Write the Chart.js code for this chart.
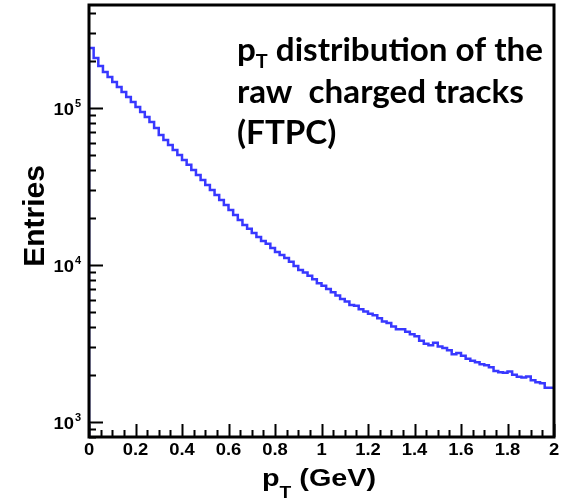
<!DOCTYPE html>
<html>
<head>
<meta charset="utf-8">
<script src="https://cdn.jsdelivr.net/npm/chart.js@4"></script>
<style>
  html, body { margin: 0; padding: 0; background: #fff; }
  canvas { display: block; }
</style>
</head>
<body>
<canvas id="ptChart" width="570" height="502"></canvas>
<script>
// ── Data ──
const binWidth = 0.02;           // GeV, 100 bins from 0 to 2
const entries = [
  100000, 241000, 208000, 185000, 169600, 157600, 146400, 136100, 126500, 117500,
  109200, 101500, 94300, 87600, 81400, 74600, 67300, 62600, 58100, 54000,
  50200, 46600, 43400, 40300, 37400, 34800, 32300, 30000, 27900, 25900,
  24100, 22400, 20800, 19350, 17980, 16960, 15990, 15080, 14220, 13610,
  12830, 12100, 11580, 11080, 10450, 9850, 9290, 8930, 8510, 8110,
  7650, 7350, 7030, 6680, 6380, 6070, 5840, 5560, 5480, 5220,
  5040, 4875, 4780, 4575, 4355, 4255, 4045, 3895, 3890, 3745,
  3610, 3505, 3280, 3140, 3070, 3185, 3015, 2950, 2860, 2690,
  2740, 2635, 2520, 2445, 2395, 2330, 2290, 2225, 2105, 2070,
  2050, 2090, 1992, 1934, 1913, 1943, 1838, 1785, 1759, 1650
];

const xTickValues = [0, 0.2, 0.4, 0.6, 0.8, 1, 1.2, 1.4, 1.6, 1.8, 2];
const xTickLabels = ['0', '0.2', '0.4', '0.6', '0.8', '1', '1.2', '1.4', '1.6', '1.8', '2'];
const xMinorStep = 0.05;

const yTickValues = [1e3, 1e4, 1e5];
const yTickExponents = ['3', '4', '5'];

const yMin = 800, yMax = 453000;

const annotationLines = [
  [['p', 'main'], ['T', 'sub'], [' distribution of the', 'main']],
  [['raw  charged tracks', 'main']],
  [['(FTPC)', 'main']],
];

// ── Histogram outline: left edges + closing point ──
const histPoints = [{ x: 0, y: yMin }];
entries.forEach((v, i) => histPoints.push({ x: i * binWidth, y: v }));
histPoints.push({ x: entries.length * binWidth, y: entries[entries.length - 1] });

// ── helpers ──
function stretchText(ctx, str, x, y, sx, align) {
  ctx.save();
  ctx.translate(x, y);
  ctx.scale(sx, 1);
  ctx.textAlign = align || 'left';
  ctx.fillText(str, 0, 0);
  ctx.restore();
}

// Frame, ROOT-style inward ticks, labels and titles
const rootDecor = {
  id: 'rootDecor',
  afterDraw(chart) {
    const ctx = chart.ctx;
    const { left, right, top, bottom } = chart.chartArea;
    const xs = chart.scales.x, ys = chart.scales.y;

    ctx.save();
    ctx.strokeStyle = '#000';
    ctx.fillStyle = '#000';

    // ticks on the y axis (log decades + 2..9 minors)
    ctx.lineWidth = 2;
    ctx.beginPath();
    for (let e = 2; e <= 5; e++) {
      for (let m = 1; m <= 9; m++) {
        const v = m * Math.pow(10, e);
        if (v < yMin || v > yMax) continue;
        const py = Math.round(ys.getPixelForValue(v)) + 0.5;
        ctx.moveTo(left, py);
        ctx.lineTo(left + (m === 1 ? 14 : 7), py);
      }
    }
    // ticks on the x axis
    const nMinor = Math.round(2 / xMinorStep);
    for (let i = 0; i <= nMinor; i++) {
      const v = i * xMinorStep;
      const px = Math.round(xs.getPixelForValue(v)) + 0.5;
      const major = i % 4 === 0;
      ctx.moveTo(px, bottom);
      ctx.lineTo(px, bottom - (major ? 13 : 7));
    }
    ctx.stroke();

    // frame
    ctx.lineWidth = 3;
    ctx.strokeRect(left, top, right - left, bottom - top);

    // x tick labels
    ctx.font = 'bold 16px "Liberation Sans", Arial, sans-serif';
    ctx.textBaseline = 'alphabetic';
    xTickValues.forEach((v, i) => {
      stretchText(ctx, xTickLabels[i], xs.getPixelForValue(v), bottom + 18, 1.15, 'center');
    });

    // y tick labels: 10^n
    yTickValues.forEach((v, i) => {
      const py = ys.getPixelForValue(v);
      ctx.font = 'bold 16px "Liberation Sans", Arial, sans-serif';
      stretchText(ctx, '10', left - 15, py + 7, 1.15, 'right');
      ctx.font = 'bold 11px "Liberation Sans", Arial, sans-serif';
      stretchText(ctx, yTickExponents[i], left - 14, py - 1, 1.0, 'left');
    });

    // y title
    ctx.save();
    ctx.font = 'bold 30px "Liberation Sans", Arial, sans-serif';
    ctx.translate(44, 216);
    ctx.rotate(-Math.PI / 2);
    ctx.textAlign = 'center';
    ctx.fillText('Entries', 0, 0);
    ctx.restore();

    // x title: p_T (GeV)
    const sxT = 1.2;
    let tx = 262;
    ctx.font = 'bold 24px "Liberation Sans", Arial, sans-serif';
    stretchText(ctx, 'p', tx, 486, sxT, 'left');
    tx += ctx.measureText('p').width * sxT;
    ctx.font = 'bold 16px "Liberation Sans", Arial, sans-serif';
    stretchText(ctx, 'T', tx, 498, sxT, 'left');
    tx += ctx.measureText('T').width * sxT;
    ctx.font = 'bold 24px "Liberation Sans", Arial, sans-serif';
    stretchText(ctx, ' (GeV)', tx, 486, sxT, 'left');

    // annotation block
    const family = 'Lato, "Open Sans", sans-serif';
    ctx.font = 'bold 100px ' + family;
    let w100 = 0;
    annotationLines[0].forEach(([s, k]) => {
      w100 += ctx.measureText(s).width * (k === 'sub' ? 0.6 : 1);
    });
    const size = 100 * 306 / w100;
    const baselines = [61, 103, 144];
    annotationLines.forEach((line, li) => {
      let ax = 237;
      line.forEach(([s, k]) => {
        const fs = k === 'sub' ? size * 0.6 : size;
        ctx.font = 'bold ' + fs.toFixed(1) + 'px ' + family;
        ctx.textAlign = 'left';
        ctx.fillText(s, ax, baselines[li] + (k === 'sub' ? size * 0.2 : 0));
        ax += ctx.measureText(s).width;
      });
    });

    ctx.restore();
  }
};

new Chart(document.getElementById('ptChart'), {
  type: 'line',
  data: {
    datasets: [{
      data: histPoints,
      stepped: 'after',
      borderColor: '#3838ff',
      borderWidth: 2.5,
      pointRadius: 0,
      fill: false,
      tension: 0,
    }]
  },
  options: {
    responsive: false,
    animation: false,
    devicePixelRatio: 1,
    layout: { padding: { top: 5, right: 16, left: 0, bottom: 0 } },
    plugins: { legend: { display: false }, tooltip: { enabled: false } },
    scales: {
      x: {
        type: 'linear', min: 0, max: 2,
        grid: { display: false, drawTicks: false },
        border: { display: false },
        ticks: { display: false },
        afterFit(scale) { scale.height = 65; },
      },
      y: {
        type: 'logarithmic', min: yMin, max: yMax,
        grid: { display: false, drawTicks: false },
        border: { display: false },
        ticks: { display: false },
        afterFit(scale) { scale.width = 89; },
      }
    }
  },
  plugins: [rootDecor]
});
</script>
</body>
</html>
